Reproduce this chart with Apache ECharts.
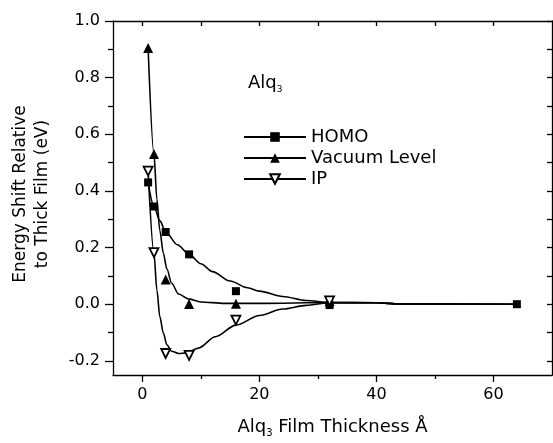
<!DOCTYPE html>
<html>
<head>
<meta charset="utf-8">
<script src="https://cdn.jsdelivr.net/npm/echarts@6/dist/echarts.min.js"></script>
<style>html,body{margin:0;padding:0;background:#fff}#c{width:553px;height:443px}</style>
</head>
<body>
<div id="c"></div>
<script>
// measured points
const homoX = [1, 2, 4, 8, 16, 32, 64];
const homoY = [0.43, 0.345, 0.255, 0.176, 0.046, -0.003, 0.0];
const vacX = [1, 2, 4, 8, 16, 32];
const vacY = [0.905, 0.53, 0.087, 0.001, 0.002, 0.01];
const ipX = [1, 2, 4, 8, 16, 32];
const ipY = [0.47, 0.182, -0.174, -0.181, -0.056, 0.012];
// fitted curves
const homoFitX = [1, 2, 3, 4, 6, 8, 10, 12, 15, 18, 20, 24, 28, 32, 40, 44, 64];
const homoFitY = [0.43, 0.345, 0.295, 0.255, 0.21, 0.176, 0.143, 0.115, 0.082, 0.058, 0.046, 0.027, 0.013, 0.006, 0.005, 0.001, 0.0];
const vacFitX = [1, 2, 2.5, 3, 3.6, 4.2, 5, 6.2, 8, 10, 14, 20, 32, 40, 44, 64];
const vacFitY = [0.905, 0.53, 0.37, 0.26, 0.18, 0.125, 0.075, 0.036, 0.018, 0.008, 0.003, 0.003, 0.006, 0.005, 0.001, 0.0];
const ipFitX = [1, 2, 2.5, 3, 3.6, 4.2, 5, 6.2, 7.5, 9.6, 12.5, 16, 20, 24, 28, 32, 40, 44, 64];
const ipFitY = [0.47, 0.18, 0.05, -0.044, -0.102, -0.143, -0.166, -0.174, -0.172, -0.155, -0.115, -0.074, -0.04, -0.017, -0.004, 0.005, 0.005, 0.001, 0.0];
// ticks
const xMajorTicks = [0, 20, 40, 60];
const xMinorTicks = [10, 30, 50];
const yMajorTicks = [-0.2, 0, 0.2, 0.4, 0.6, 0.8, 1.0];
const yMinorTicks = [-0.1, 0.1, 0.3, 0.5, 0.7, 0.9];
const seriesNames = ['HOMO', 'Vacuum Level', 'IP'];

const FONT = 'DejaVu Sans';
const zip = (a, b) => a.map((v, i) => [v, b[i]]);
const xAll = xMajorTicks.concat(xMinorTicks);
const yAll = yMajorTicks.concat(yMinorTicks);
const lineCol = '#000';
const XMIN = -5, XMAX = 70, YMIN = -0.25, YMAX = 1.0;

function xa(extra) {
  return Object.assign({type: 'value', min: XMIN, max: XMAX, splitLine: {show: false},
    axisLine: {show: false, onZero: false}, axisLabel: {show: false}, axisTick: {show: false}}, extra);
}
function ya(extra) {
  return Object.assign({type: 'value', min: YMIN, max: YMAX, splitLine: {show: false},
    axisLine: {show: false, onZero: false}, axisLabel: {show: false}, axisTick: {show: false}}, extra);
}

const chart = echarts.init(document.getElementById('c'));
const markerStyles = [
  {symbol: 'rect', symbolSize: 8, symbolRotate: 0, itemStyle: {color: '#000', borderColor: '#000', borderWidth: 0, opacity: 1}},
  {symbol: 'triangle', symbolSize: 10, symbolRotate: 0, itemStyle: {color: '#000', borderColor: '#000', borderWidth: 0, opacity: 1}},
  {symbol: 'triangle', symbolSize: 9, symbolRotate: 180, itemStyle: {color: '#fff', borderColor: '#000', borderWidth: 1.8, opacity: 1}}
];
const fits = [zip(homoFitX, homoFitY), zip(vacFitX, vacFitY), zip(ipFitX, ipFitY)];
const pts = [zip(homoX, homoY), zip(vacX, vacY), zip(ipX, ipY)];
const series = [];
seriesNames.forEach((n, i) => {
  series.push({
    name: n, type: 'line', data: fits[i], smooth: 0.3, smoothMonotone: 'x',
    showSymbol: false, lineStyle: {color: lineCol, width: 1.6}, z: 2,
    symbol: markerStyles[i].symbol, symbolRotate: markerStyles[i].symbolRotate, itemStyle: markerStyles[i].itemStyle
  });
});
seriesNames.forEach((n, i) => {
  series.push(Object.assign({name: n + ' data', type: 'scatter', data: pts[i], z: 3}, markerStyles[i]));
});

chart.setOption({
  animation: false,
  backgroundColor: '#fff',
  grid: {left: 113, right: 1, top: 21, bottom: 66, containLabel: false},
  xAxis: [
    xa({position: 'bottom', axisLine: {show: true, onZero: false, lineStyle: {color: lineCol, width: 1.3}},
      axisTick: {show: true, customValues: xMajorTicks, length: 7, lineStyle: {color: lineCol, width: 1.3}},
      axisLabel: {show: true, customValues: xMajorTicks, margin: 12, color: '#000', fontFamily: FONT, fontSize: 16},
      name: 'Alq{sub|3} Film Thickness Å', nameLocation: 'middle', nameGap: 41,
      nameTextStyle: {color: '#000', fontFamily: FONT, fontSize: 18, lineHeight: 22,
        rich: {sub: {fontSize: 10, fontFamily: FONT, color: '#000', lineHeight: 10, verticalAlign: 'bottom'}}}}),
    xa({position: 'bottom', axisTick: {show: true, customValues: xMinorTicks, length: 4, lineStyle: {color: lineCol, width: 1.3}}}),
    xa({position: 'top', axisLine: {show: true, onZero: false, lineStyle: {color: lineCol, width: 1.3}},
      axisTick: {show: true, inside: true, customValues: xAll, length: 5, lineStyle: {color: lineCol, width: 1.3}}})
  ],
  yAxis: [
    ya({position: 'left', axisLine: {show: true, onZero: false, lineStyle: {color: lineCol, width: 1.3}},
      axisTick: {show: true, customValues: yMajorTicks, length: 8, lineStyle: {color: lineCol, width: 1.3}},
      axisLabel: {show: true, customValues: yMajorTicks, margin: 13, color: '#000', fontFamily: FONT, fontSize: 16,
        formatter: v => v.toFixed(1)}}),
    ya({position: 'left', axisTick: {show: true, customValues: yMinorTicks, length: 5, lineStyle: {color: lineCol, width: 1.3}}}),
    ya({position: 'right', axisLine: {show: true, onZero: false, lineStyle: {color: lineCol, width: 1.3}},
      axisTick: {show: true, inside: true, customValues: yAll, length: 5, lineStyle: {color: lineCol, width: 1.3}}})
  ],
  legend: {
    data: seriesNames, orient: 'vertical', left: 243, top: 128, padding: 0,
    itemWidth: 62, itemHeight: 12, itemGap: 3,
    textStyle: {color: '#000', fontFamily: FONT, fontSize: 18, lineHeight: 18},
    selectedMode: false
  },
  graphic: [
    {type: 'text', left: 248, top: 72, style: {
      text: 'Alq{sub|3}', fill: '#000', font: '18px "' + FONT + '"', lineHeight: 22,
      rich: {sub: {fontSize: 9, fontFamily: FONT, fill: '#000', lineHeight: 9, verticalAlign: 'bottom'}}}},
    {type: 'text', x: 32, y: 194, rotation: Math.PI / 2, style: {
      text: 'Energy Shift Relative\nto Thick Film (eV)', fill: '#000', font: '17px "' + FONT + '"',
      lineHeight: 22, align: 'center', verticalAlign: 'middle'}}
  ],
  series: series.map(s => Object.assign({xAxisIndex: 0, yAxisIndex: 0}, s))
});
</script>
</body>
</html>
